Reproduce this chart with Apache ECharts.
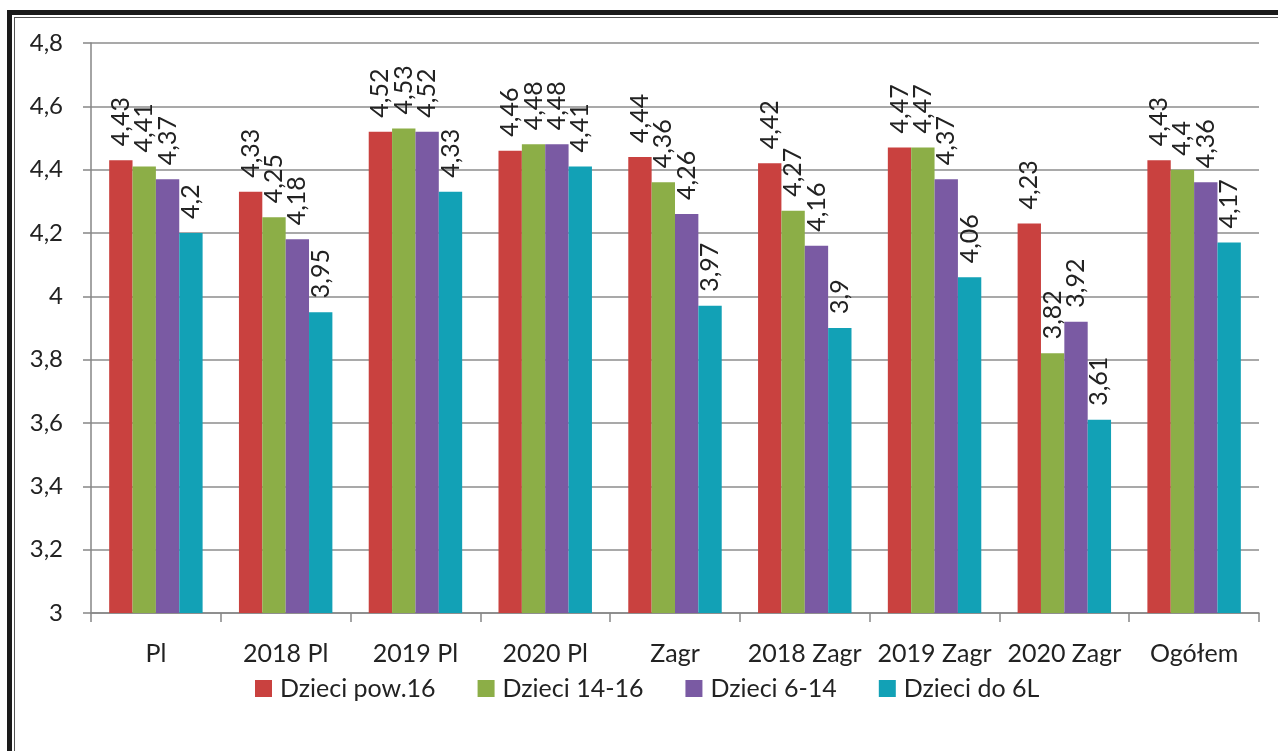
<!DOCTYPE html>
<html>
<head>
<meta charset="utf-8">
<script src="https://cdn.jsdelivr.net/npm/echarts@6/dist/echarts.min.js"></script>
<style>
  html, body { margin: 0; padding: 0; background: #fff; overflow: hidden; }
  .frame {
    position: absolute; left: 7px; top: 10px;
    width: 1400px; height: 900px;
    border: 5px solid #1a1a1a;
  }
  .frame-inner {
    position: absolute; left: 14px; top: 17px;
    width: 1400px; height: 900px;
    border: 1px solid #555;
  }
  #chart { position: absolute; left: 0; top: 0; width: 1278px; height: 751px; }
</style>
</head>
<body>
<div class="frame"></div>
<div class="frame-inner"></div>
<div id="chart"></div>
<script>
const categories = ['Pl', '2018 Pl', '2019 Pl', '2020 Pl', 'Zagr', '2018 Zagr', '2019 Zagr', '2020 Zagr', 'Ogółem']
const seriesNames = ['Dzieci pow.16', 'Dzieci 14-16', 'Dzieci 6-14', 'Dzieci do 6L']
const pow16 = [4.43, 4.33, 4.52, 4.46, 4.44, 4.42, 4.47, 4.23, 4.43]
const d1416 = [4.41, 4.25, 4.53, 4.48, 4.36, 4.27, 4.47, 3.82, 4.4]
const d614 = [4.37, 4.18, 4.52, 4.48, 4.26, 4.16, 4.37, 3.92, 4.36]
const do6 = [4.2, 3.95, 4.33, 4.41, 3.97, 3.9, 4.06, 3.61, 4.17]
const colors = ['#c9413f', '#8cae47', '#7a5aa3', '#12a1b6']

const font = 'Lato, "Noto Sans", sans-serif'
const comma = (v) => String(+Number(v).toFixed(2)).replace('.', ',')

const chart = echarts.init(document.getElementById('chart'))

function makeSeries(name, data) {
  return {
    name,
    type: 'bar',
    data,
    barGap: '0%',
    barCategoryGap: '28%',
    label: {
      show: true,
      position: 'top',
      rotate: 90,
      align: 'left',
      verticalAlign: 'middle',
      distance: 14,
      color: '#222',
      fontFamily: font,
      fontSize: 25,
      formatter: (p) => comma(p.value)
    }
  }
}

chart.setOption({
  animation: false,
  color: colors,
  grid: { left: 91, right: 19, top: 43, bottom: 138 },
  legend: {
    top: 671,
    left: 250,
    icon: 'rect',
    itemWidth: 17,
    itemHeight: 17,
    itemGap: 42,
    textStyle: { color: '#222', fontSize: 25, fontFamily: font, padding: [0, 0, 0, 3] },
    data: seriesNames
  },
  xAxis: {
    type: 'category',
    data: categories,
    axisLine: { lineStyle: { color: '#868686', width: 1.5 } },
    axisTick: { show: true, length: 9, lineStyle: { color: '#868686', width: 1.5 } },
    axisLabel: { color: '#222', fontSize: 25, fontFamily: font, margin: 28, interval: 0 }
  },
  yAxis: {
    type: 'value',
    min: 3,
    max: 4.8,
    interval: 0.2,
    axisLine: { show: true, lineStyle: { color: '#868686', width: 1.5 } },
    axisTick: { show: true, length: 8, lineStyle: { color: '#868686', width: 1.5 } },
    axisLabel: { color: '#222', fontSize: 24, fontFamily: font, margin: 28, formatter: (v) => comma(v) },
    splitLine: { lineStyle: { color: '#8c8c8c', width: 1.5 } }
  },
  series: [
    makeSeries(seriesNames[0], pow16),
    makeSeries(seriesNames[1], d1416),
    makeSeries(seriesNames[2], d614),
    makeSeries(seriesNames[3], do6)
  ]
})
</script>
</body>
</html>
